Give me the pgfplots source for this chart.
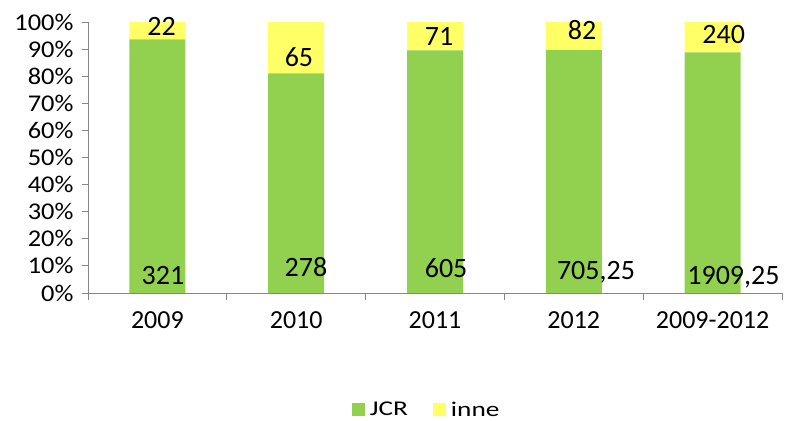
\documentclass[border=0pt]{standalone}
\usepackage{pgfplots}
\pgfplotsset{compat=1.18}
\usepackage{pgfplotstable}
\usepackage{fontspec}
\setmainfont{Carlito}
\newfontfamily\tickfont[FakeStretch=1.1]{Carlito}
\newfontfamily\legfont[FakeStretch=1.3]{Carlito}

\definecolor{jcrgreen}{RGB}{146,208,80}
\definecolor{inneyellow}{RGB}{255,255,102}
\definecolor{axgray}{RGB}{134,134,134}

% raw counts per period
\pgfplotstableread{
x jcr inne
0 321 22
1 278 65
2 605 71
3 705.25 82
4 1909.25 240
}\counts
\pgfplotstablecreatecol[expr={100*\thisrow{jcr}/(\thisrow{jcr}+\thisrow{inne})}]{pj}\counts
\pgfplotstablecreatecol[expr={100*\thisrow{inne}/(\thisrow{jcr}+\thisrow{inne})}]{pi}\counts

% data label positions (as placed in the original)
\pgfplotstableread{
x y lab
0.03 98.2 22
1.02 87.1 65
2.03 94.5 71
3.06 97.0 82
4.08 95.2 240
0.04 6.6 321
1.07 9.6 278
2.08 9.2 605
3.16 7.7 705,25
4.15 5.9 1909,25
}\labels

\pgfplotsset{base/.style={
    scale only axis,
    width=694bp, height=271bp,
    xmin=-0.5, xmax=4.5,
    ymin=0, ymax=100,
    at={(88bp,128bp)}, anchor=south west,
}}

\begin{document}
\begin{tikzpicture}
\useasboundingbox (0,0) rectangle (790bp,421bp);
\begin{axis}[
    base,
    ybar stacked,
    bar width=56bp,
    axis lines*=left,
    axis line style={axgray, line width=0.8bp},
    ytick={0,10,...,100},
    yticklabel={\pgfmathparse{int(round(\tick))}\pgfmathresult\%},
    xtick={0,1,2,3,4},
    xticklabels={2009,2010,2011,2012,2009-2012},
    minor xtick={-0.5,0.5,1.5,2.5,3.5,4.5},
    major x tick style={draw=none},
    tick align=outside,
    major tick length=6bp,
    minor tick length=7bp,
    every tick/.style={axgray, line width=0.8bp},
    minor tick style={axgray, line width=0.8bp},
    yticklabel style={font=\tickfont\fontsize{24bp}{27bp}\selectfont, xshift=-5bp},
    xticklabel style={font=\fontsize{26bp}{29bp}\selectfont, yshift=-9bp},
    legend style={at={(0.488,-0.43)}, anchor=center, draw=none,
        inner sep=1bp,
        nodes={inner sep=2bp},
        font=\legfont\fontsize{21bp}{24bp}\selectfont,
        legend columns=2,
        /tikz/every odd column/.append style={column sep=3bp},
        /tikz/every even column/.append style={column sep=23bp}},
    legend image code/.code={\fill[#1] (0bp,-6.5bp) rectangle (13bp,6.5bp);},
]
\addplot[fill=jcrgreen, draw=none] table[x=x, y=pj] {\counts};
\addlegendentry{JCR}
\addplot[fill=inneyellow, draw=none] table[x=x, y=pi] {\counts};
\addlegendentry{inne}
\end{axis}

\begin{axis}[base, hide axis]
\addplot[draw=none, nodes near coords, point meta=explicit symbolic,
    every node near coord/.style={anchor=center, inner sep=0pt,
        font=\fontsize{28bp}{31bp}\selectfont, text=black}]
    table[x=x, y=y, meta=lab] {\labels};
\end{axis}
\end{tikzpicture}
\end{document}
